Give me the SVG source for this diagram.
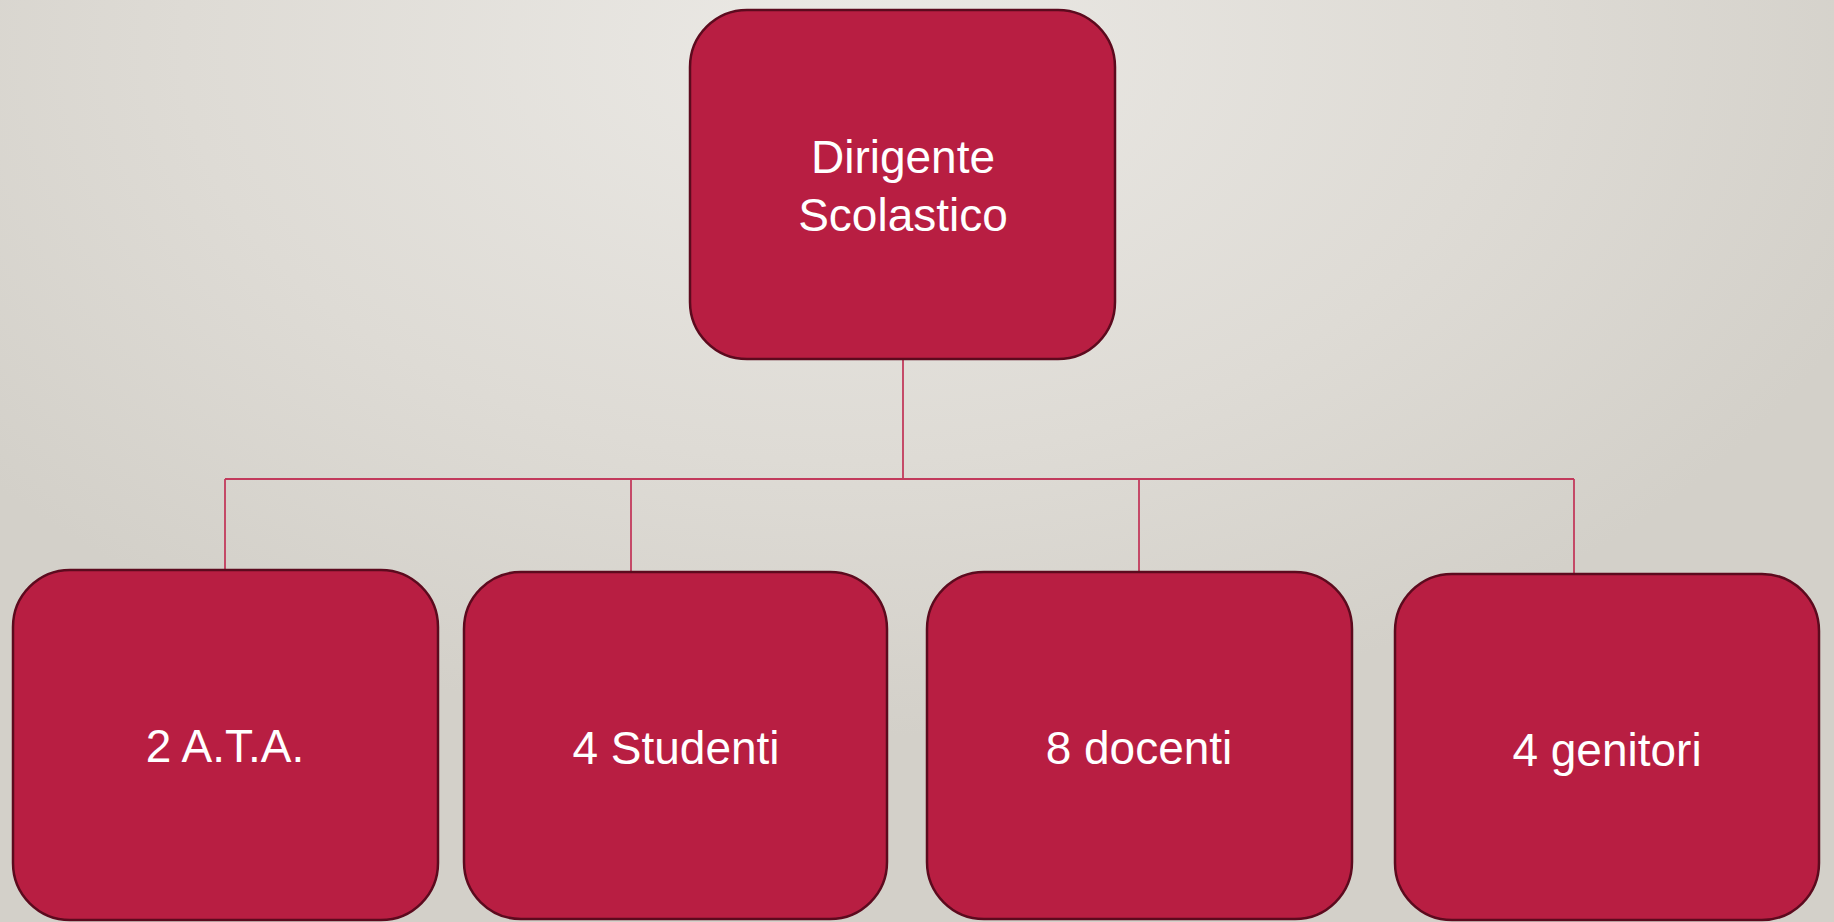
<svg xmlns="http://www.w3.org/2000/svg" width="1834" height="922" viewBox="0 0 1834 922">
  <defs>
    <radialGradient id="bg" cx="0.45" cy="0.05" r="0.75" gradientTransform="translate(0.1,0) scale(0.8,1)">
      <stop offset="0" stop-color="#ebe9e5"/>
      <stop offset="0.6" stop-color="#dedbd5"/>
      <stop offset="1" stop-color="#d3d0c9"/>
    </radialGradient>
  </defs>
  <style>
    .node rect { fill: #b81e42; stroke: #5c0a1e; stroke-width: 2.5; }
    .node text { fill: #ffffff; font-family: "Liberation Sans", Arial, sans-serif; font-size: 46px; text-anchor: middle; }
    .conn { fill: none; stroke: #c23a5c; stroke-width: 1.8; }
  </style>
  <rect x="0" y="0" width="1834" height="922" fill="url(#bg)"/>
  <g id="connectors">
    <path class="conn" d="M903 359 V479"/>
    <path class="conn" d="M225 479 H1574"/>
    <path class="conn" d="M225 479 V570"/>
    <path class="conn" d="M631 479 V572"/>
    <path class="conn" d="M1139 479 V572"/>
    <path class="conn" d="M1574 479 V574"/>
  </g>
  <g id="node-dirigente" class="node">
    <rect x="690" y="10" width="425" height="349" rx="57" ry="57"/>
    <text x="903" y="173">Dirigente</text>
    <text x="903" y="231">Scolastico</text>
  </g>
  <g id="node-ata" class="node">
    <rect x="13" y="570" width="425" height="350" rx="57" ry="57"/>
    <text x="225" y="762">2 A.T.A.</text>
  </g>
  <g id="node-studenti" class="node">
    <rect x="464" y="572" width="423" height="347" rx="57" ry="57"/>
    <text x="676" y="764">4 Studenti</text>
  </g>
  <g id="node-docenti" class="node">
    <rect x="927" y="572" width="425" height="347" rx="57" ry="57"/>
    <text x="1139" y="764">8 docenti</text>
  </g>
  <g id="node-genitori" class="node">
    <rect x="1395" y="574" width="424" height="346" rx="57" ry="57"/>
    <text x="1607" y="766">4 genitori</text>
  </g>
</svg>
